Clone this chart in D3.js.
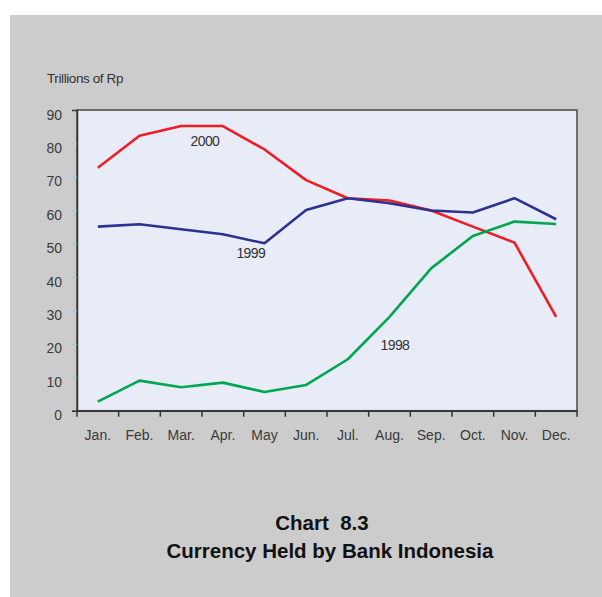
<!DOCTYPE html>
<html><head><meta charset="utf-8">
<script src="https://cdn.jsdelivr.net/npm/d3@7"></script>
<style>body{margin:0;background:#fff}svg{display:block}</style>
</head><body>
<script>
const months = ["Jan.","Feb.","Mar.","Apr.","May","Jun.","Jul.","Aug.","Sep.","Oct.","Nov.","Dec."];
const yTicks = [0,10,20,30,40,50,60,70,80,90];
const s1998 = [2.7,9.0,7.0,8.4,5.6,7.7,15.4,28.1,42.6,52.3,56.6,55.9];
const s1999 = [55.1,55.8,54.3,52.8,50.1,60.1,63.6,62.1,59.9,59.3,63.6,57.3];
const s2000 = [72.7,82.3,85.2,85.2,78.2,69.0,63.6,62.9,59.9,55.1,50.3,28.1];
const seriesNames = ["1998","1999","2000"];
const seriesColors = ["#00a651","#2e3192","#ee1c25"];
const labelPos = [{m:7.63,v:19.4},{m:4.17,v:46.9},{m:3.07,v:80.2}];

const W=602,H=597;
const svg=d3.select("body").append("svg").attr("width",W).attr("height",H);
const font="'Liberation Sans', Arial, sans-serif";
svg.append("rect").attr("x",10).attr("y",15).attr("width",W-10).attr("height",H-15).attr("fill","#cccccc");

const L=77,R=577,T=110,B=410.7;
const x=d3.scaleBand().domain(months).range([L,R]);
const y=d3.scaleLinear().domain([0,90]).range([B,T]);

svg.append("rect").attr("x",L).attr("y",T).attr("width",R-L).attr("height",B-T)
  .attr("fill","#e8ecf6").attr("stroke","#4a4a4a").attr("stroke-width",1.5);

// y axis
const ya=svg.append("g").attr("transform",`translate(${L},0)`)
  .call(d3.axisLeft(y).tickValues(yTicks).tickSize(5).tickPadding(10));
ya.select(".domain").attr("stroke","#333").attr("stroke-width",1.5);
ya.selectAll(".tick line").attr("stroke",d=>(d===0||d===90)?"#333":"#9bc8e0");
ya.selectAll(".tick text").attr("font-family",font).attr("font-size",14).attr("fill","#3a3a3a").attr("dy","0.65em");

// x axis
const xa=svg.append("g").attr("transform",`translate(0,${B})`)
  .call(d3.axisBottom(x).tickSize(0).tickPadding(19));
xa.select(".domain").attr("stroke","#333").attr("stroke-width",1.5);
xa.selectAll(".tick text").attr("font-family",font).attr("font-size",14).attr("fill","#3a3a3a");
const bounds=months.map(m=>x(m)).concat([R]);
svg.append("g").selectAll("line").data(bounds).join("line")
  .attr("x1",d=>d).attr("x2",d=>d).attr("y1",B).attr("y2",B+6)
  .attr("stroke","#333").attr("stroke-width",1.5);

// lines
const cx=m=>x(m)+x.bandwidth()/2;
const line=d3.line().x((d,i)=>cx(months[i])).y(d=>y(d));
[s2000,s1999,s1998].forEach((s,k)=>{
  const idx=[2,1,0][k];
  svg.append("path").datum(s).attr("d",line).attr("fill","none")
    .attr("stroke",seriesColors[idx]).attr("stroke-width",2.6).attr("stroke-linejoin","round");
});

// series labels
labelPos.forEach((p,i)=>{
  svg.append("text").attr("x",L+p.m*x.bandwidth()).attr("y",y(p.v)).attr("text-anchor","middle")
    .attr("dominant-baseline","middle").attr("font-family",font).attr("font-size",14)
    .attr("fill","#333").attr("letter-spacing","-0.6").text(seriesNames[i]);
});

svg.append("text").attr("x",47).attr("y",83).attr("font-family",font).attr("font-size",13.5)
  .attr("fill","#333").attr("letter-spacing","-0.4").text("Trillions of Rp");

svg.append("text").attr("x",322).attr("y",530).attr("text-anchor","middle").attr("font-family",font)
  .attr("font-weight","bold").attr("font-size",20.5).attr("fill","#111").attr("xml:space","preserve").text("Chart  8.3");
svg.append("text").attr("x",330).attr("y",558).attr("text-anchor","middle").attr("font-family",font)
  .attr("font-weight","bold").attr("font-size",20.5).attr("fill","#111").text("Currency Held by Bank Indonesia");
</script>
</body></html>
